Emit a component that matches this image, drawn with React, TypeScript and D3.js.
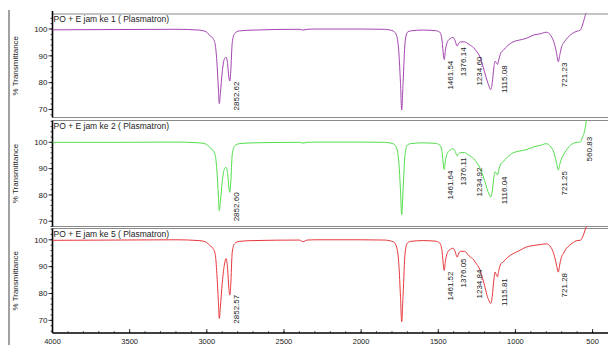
import React from "react";
import * as d3 from "d3";

// wavenumber grid (cm-1), shared by the three spectra
const wavenumbers = [
  4000, 3600, 3200, 3050, 3000, 2980, 2960, 2945, 2935, 2925, 2919, 2912, 2900, 2885, 2875, 2865,
  2857, 2851, 2845, 2835, 2820, 2790, 2700, 2400, 2376, 2350, 2300, 2000, 1850, 1790, 1770, 1755,
  1745, 1737, 1728, 1715, 1700, 1680, 1600, 1520, 1490, 1475, 1466, 1461, 1455, 1440, 1420, 1405,
  1390, 1380, 1376, 1370, 1355, 1330, 1300, 1270, 1250, 1235, 1220, 1200, 1185, 1170, 1160, 1150,
  1140, 1132, 1124, 1116, 1108, 1095, 1080, 1050, 1016, 980, 930, 880, 840, 800, 770, 750,
  735, 722, 712, 700, 690, 670, 650, 630, 600, 580, 565, 555, 545, 540,
];

// % transmittance, jam ke 1
const spectrum1 = [
  99.7, 99.8, 99.9, 99.6, 98.8, 97.5, 96.5, 94, 88, 78, 72.2, 76, 84, 89, 89.5, 87,
  82, 80.6, 84, 95, 98.3, 99.3, 99.6, 99.9, 99.6, 99.9, 100, 100, 99.9, 99.2, 97.5, 91,
  80, 69.8, 80, 95, 98.8, 99.3, 99.6, 99.4, 98.8, 95.5, 90, 88.6, 91.5, 95.3, 96.5, 96.9,
  95.5, 93.8, 93.7, 94.5, 95.2, 95.2, 94.2, 93, 91.5, 90.3, 88, 84, 81, 78.5, 77.4, 80,
  85.5, 88, 87.5, 86.8, 88.5, 91, 92, 93.8, 95.2, 95.8, 96.5, 97.8, 98.2, 98.8, 97.5, 95,
  91.5, 87.8, 90.5, 93.5, 94.6, 96.2, 97.5, 98.4, 99.2, 99.6, 101.5, 103.5, 105.5, 106,
];

// % transmittance, jam ke 2
const spectrum2 = [
  100, 100, 100.1, 99.8, 99.2, 98, 97, 95, 89.5, 80, 74.1, 77.5, 85, 90, 90.5, 88,
  83, 81, 84.5, 95.5, 98.6, 99.5, 99.8, 100, 99.7, 100, 100.1, 100.1, 100, 99.4, 97.8, 92,
  82, 72.5, 82, 95.5, 99, 99.5, 99.8, 99.6, 99, 96.2, 91, 89.7, 92.5, 96, 97.2, 97.6,
  96.5, 95, 94.9, 95.5, 96.1, 96.1, 95, 93.8, 92.2, 91, 88.8, 85.5, 82.5, 80.2, 79.2, 81.5,
  86.5, 88.8, 88.3, 87.6, 89.5, 91.8, 92.6, 94.5, 96, 96.6, 97.2, 98.3, 98.8, 99.5, 98.2, 96,
  92.5, 89.5, 91.8, 94, 95.1, 97, 98.5, 99.5, 100, 100.1, 102, 103.5, 106.5, 108.4,
];

// % transmittance, jam ke 5
const spectrum3 = [
  99.8, 99.9, 100, 99.7, 99, 97.8, 96.8, 94.5, 87.5, 77, 70.7, 75, 84, 91, 93, 89,
  82, 79.4, 83, 95.5, 98.5, 99.4, 99.7, 99.9, 99.3, 99.9, 100, 100, 99.9, 99.2, 97.3, 90.5,
  79, 69.5, 79.5, 95, 98.8, 99.4, 99.7, 99.5, 98.8, 95.5, 90, 88.6, 91.5, 95.3, 96.5, 96.9,
  95.5, 93.7, 93.6, 94.6, 95.7, 95.7, 94, 92.5, 90.8, 89.5, 87, 83, 79.5, 77.2, 76.3, 79,
  85, 88, 87, 86.2, 88.5, 91, 91.7, 93.5, 94.8, 95.8, 97.3, 97.9, 98.2, 98.5, 97.2, 94.5,
  91, 88, 91, 93.8, 94.8, 96.8, 97.9, 98.8, 99.7, 99.8, 101, 102.5, 104.2, 105,
];

const titles = [
  "PO + E jam ke 1 ( Plasmatron)",
  "PO + E jam ke 2 ( Plasmatron)",
  "PO + E jam ke 5 ( Plasmatron)",
];

const peaks1 = [
  { wn: 2852.62, text: "2852.62" },
  { wn: 1461.54, text: "1461.54" },
  { wn: 1376.14, text: "1376.14" },
  { wn: 1234.6, text: "1234.60" },
  { wn: 1115.08, text: "1115.08" },
  { wn: 721.23, text: "721.23" },
];
const peaks2 = [
  { wn: 2852.6, text: "2852.60" },
  { wn: 1461.64, text: "1461.64" },
  { wn: 1376.11, text: "1376.11" },
  { wn: 1234.92, text: "1234.92" },
  { wn: 1116.04, text: "1116.04" },
  { wn: 721.25, text: "721.25" },
  { wn: 560.83, text: "560.83" },
];
const peaks3 = [
  { wn: 2852.57, text: "2852.57" },
  { wn: 1461.52, text: "1461.52" },
  { wn: 1376.05, text: "1376.05" },
  { wn: 1234.84, text: "1234.84" },
  { wn: 1115.81, text: "1115.81" },
  { wn: 721.28, text: "721.28" },
];

const xTicks = [4000, 3500, 3000, 2500, 2000, 1500, 1000, 500];
const yTicks = [70, 80, 90, 100];

const W = 608;
const H = 345;
const FONT = "'Liberation Sans', Arial, sans-serif";

const x = d3.scaleLinear().domain([4000, 400]).range([52.5, 608]);

const panels = [
  { top: 14, bottom: 117.5, domain: [67, 105.6], data: spectrum1, peaks: peaks1, color: "#a345b0", title: titles[0] },
  { top: 120.5, bottom: 226.5, domain: [68, 108.3], data: spectrum2, peaks: peaks2, color: "#52de4c", title: titles[1] },
  { top: 228.5, bottom: 333, domain: [65.3, 104.2], data: spectrum3, peaks: peaks3, color: "#e8383d", title: titles[2] },
];

const interp = (data: number[], wn: number) => {
  for (let i = 0; i < wavenumbers.length - 1; i++) {
    const a = wavenumbers[i];
    const b = wavenumbers[i + 1];
    if (wn <= a && wn >= b) {
      const t = (a - wn) / (a - b);
      return data[i] + t * (data[i + 1] - data[i]);
    }
  }
  return data[data.length - 1];
};

const Panel = ({ p, last }: { p: (typeof panels)[number]; last: boolean }) => {
  const y = d3.scaleLinear().domain(p.domain).range([p.bottom, p.top]);
  const pts = wavenumbers.map((wn, i) => [wn, p.data[i]] as [number, number]);
  const line = d3
    .line<[number, number]>()
    .x((d) => x(d[0]))
    .y((d) => y(d[1]))
    .curve(d3.curveMonotoneX);
  const minor = d3.range(Math.ceil(p.domain[0] / 2) * 2, p.domain[1], 2);
  const xl = x.range()[0];

  return (
    <g>
      {/* frame */}
      <line x1={xl} x2={W} y1={p.top} y2={p.top} stroke="#8a8a8a" strokeWidth={1.2} />
      {!last && <line x1={xl} x2={W} y1={p.bottom} y2={p.bottom} stroke="#8a8a8a" strokeWidth={1.2} />}
      <line x1={xl} x2={xl} y1={p.top - (p.top < 20 ? 3 : 0)} y2={p.bottom} stroke="#000" strokeWidth={1.6} />

      {/* y axis */}
      {minor.map((v) => (
        <line key={"m" + v} x1={xl - 2} x2={xl} y1={y(v)} y2={y(v)} stroke="#000" strokeWidth={0.7} />
      ))}
      {yTicks.map((v) => (
        <g key={v}>
          <line x1={xl - 4} x2={xl} y1={y(v)} y2={y(v)} stroke="#000" strokeWidth={0.8} />
          <text x={xl - 5} y={y(v)} dy="0.35em" textAnchor="end" fontSize={8} fontFamily={FONT} fill="#222">
            {v}
          </text>
        </g>
      ))}
      <text
        transform={`translate(17.5, ${(p.top + p.bottom) / 2}) rotate(-90)`}
        textAnchor="middle"
        fontSize={8}
        fontFamily={FONT}
        fill="#222"
      >
        % Transmittance
      </text>

      <text x={xl + 1} y={p.top + 8} fontSize={8.5} fontFamily={FONT} fill="#222">
        {p.title}
      </text>

      <path d={line(pts) ?? ""} fill="none" stroke={p.color} strokeWidth={1} />

      {p.peaks.map((pk) => {
        const px = x(pk.wn) + (pk.text.startsWith("1234") ? 2.5 : 9);
        const py = y(interp(p.data, pk.wn)) + 1.5;
        return (
          <text
            key={pk.text}
            transform={`translate(${px}, ${py}) rotate(-90)`}
            textAnchor="end"
            fontSize={8}
            fontFamily={FONT}
            fill="#222"
          >
            {pk.text}
          </text>
        );
      })}
    </g>
  );
};

export default function App() {
  const bottom = panels[2].bottom;
  const xMinor = d3.range(4000, 400, -100);
  return (
    <svg
      width={W}
      height={H}
      style={{ position: "absolute", left: 0, top: 0, background: "#fff" }}
    >
      <rect width={W} height={H} fill="#fff" />
      <line x1={9} x2={9} y1={10} y2={H} stroke="#444" strokeWidth={1} />
      {panels.map((p, i) => (
        <Panel key={i} p={p} last={i === panels.length - 1} />
      ))}

      {/* x axis */}
      <line x1={x.range()[0]} x2={W} y1={bottom} y2={bottom} stroke="#000" strokeWidth={1.6} />
      {xMinor.map((v) => (
        <line key={"xm" + v} x1={x(v)} x2={x(v)} y1={bottom} y2={bottom - 2} stroke="#000" strokeWidth={0.6} />
      ))}
      {xTicks.map((v) => (
        <g key={v}>
          <line x1={x(v)} x2={x(v)} y1={bottom} y2={bottom - 4} stroke="#000" strokeWidth={0.8} />
          <text x={x(v)} y={bottom + 10.5} textAnchor="middle" fontSize={7.5} fontFamily={FONT} fill="#222">
            {v}
          </text>
        </g>
      ))}
    </svg>
  );
}
